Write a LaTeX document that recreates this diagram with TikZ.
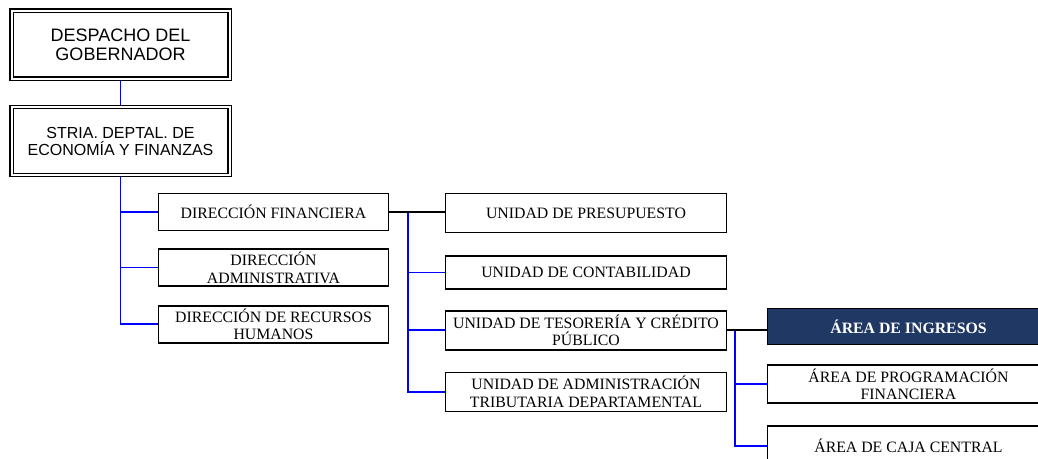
\documentclass[tikz,border=0pt]{standalone}
\usepackage{fontspec}
\setmainfont{Liberation Serif}
\newfontfamily\arialfont{Liberation Sans}
\usetikzlibrary{positioning,backgrounds}
\definecolor{cnavy}{RGB}{31,56,100}
\definecolor{cblue}{RGB}{0,0,255}
\tikzset{
  headbox/.style={rectangle, draw, double, double distance=2pt,
    line width=1.3pt, minimum width=218pt, minimum height=68pt,
    inner sep=0pt, align=center, font=\arialfont\fontsize{18}{19}\selectfont},
  unitbox/.style={rectangle, draw, line width=1.6pt,
    minimum width=#1, inner sep=0pt, align=center,
    font=\fontsize{15.8}{17.6}\selectfont},
  unitbox/.default=281pt,
  bluelink/.style={draw=cblue, line width=1.7pt},
  blacklink/.style={draw=black, line width=1.7pt}
}
\begin{document}
\begin{tikzpicture}[x=1pt, y=-1pt]
    \clip (0,0) rectangle (1038,458);
    \useasboundingbox (0,0) rectangle (1038,458);

    % top of the chart
    \node[headbox]    (gob) at (120.5,44.75) {DESPACHO DEL\\GOBERNADOR};
    \node[headbox, font=\arialfont\fontsize{16}{17}\selectfont,
      below=27pt of gob] (sec) {STRIA. DEPTAL. DE\\ECONOMÍA Y FINANZAS};

    % direcciones
    \node[unitbox=230pt, minimum height=37pt] (df) at (273.5,212) {DIRECCIÓN FINANCIERA};
    \node[unitbox=230pt, minimum height=37pt, below=17pt of df] (da) {DIRECCIÓN\\ADMINISTRATIVA};
    \node[unitbox=230pt, minimum height=37pt, below=18pt of da] (drh) {DIRECCIÓN DE RECURSOS\\HUMANOS};

    % unidades
    \node[unitbox, minimum height=39pt] (up) at (586,213) {UNIDAD DE PRESUPUESTO};
    \node[unitbox, minimum height=33pt, below=22pt of up] (uc) {UNIDAD DE CONTABILIDAD};
    \node[unitbox, minimum height=39pt, below=20pt of uc] (ut) {UNIDAD DE TESORERÍA Y CRÉDITO\\PÚBLICO};
    \node[unitbox, minimum height=39pt, below=21pt of ut] (uat) {UNIDAD DE ADMINISTRACIÓN\\TRIBUTARIA DEPARTAMENTAL};

    % areas
    \node[unitbox=282pt, minimum height=36pt, fill=cnavy, text=white,
      font=\bfseries\fontsize{15.8}{17.6}\selectfont] (ai) at (908.5,326.5) {ÁREA DE INGRESOS};
    \node[unitbox=282pt, minimum height=38pt, below=19pt of ai] (apf) {ÁREA DE PROGRAMACIÓN\\FINANCIERA};
    \node[unitbox=282pt, minimum height=40pt, below=21pt of apf] (acc) {ÁREA DE CAJA CENTRAL};

    \coordinate (ujoint) at ([xshift=19pt]df.east);
    \coordinate (ajoint) at ([xshift=8pt]ut.east);

    \begin{scope}[on background layer]
      \draw[bluelink] (gob) -- (sec);
      \draw[bluelink] (sec.south) |- (drh.west);
      \draw[bluelink] (df.west) -- (df.west -| sec.south);
      \draw[bluelink] (da.west) -- (da.west -| sec.south);

      \draw[bluelink] (ujoint) |- (uat.west);
      \draw[bluelink] (uc.west) -- (uc.west -| ujoint);
      \draw[bluelink] (ut.west) -- (ut.west -| ujoint);
      \draw[blacklink] (df.east) -- (df.east -| up.west);

      \draw[bluelink] (ajoint) |- (acc.west);
      \draw[bluelink] (apf.west) -- (apf.west -| ajoint);
      \draw[blacklink] (ut.east) -- (ut.east -| ai.west);
    \end{scope}
  \end{tikzpicture}
\end{document}
